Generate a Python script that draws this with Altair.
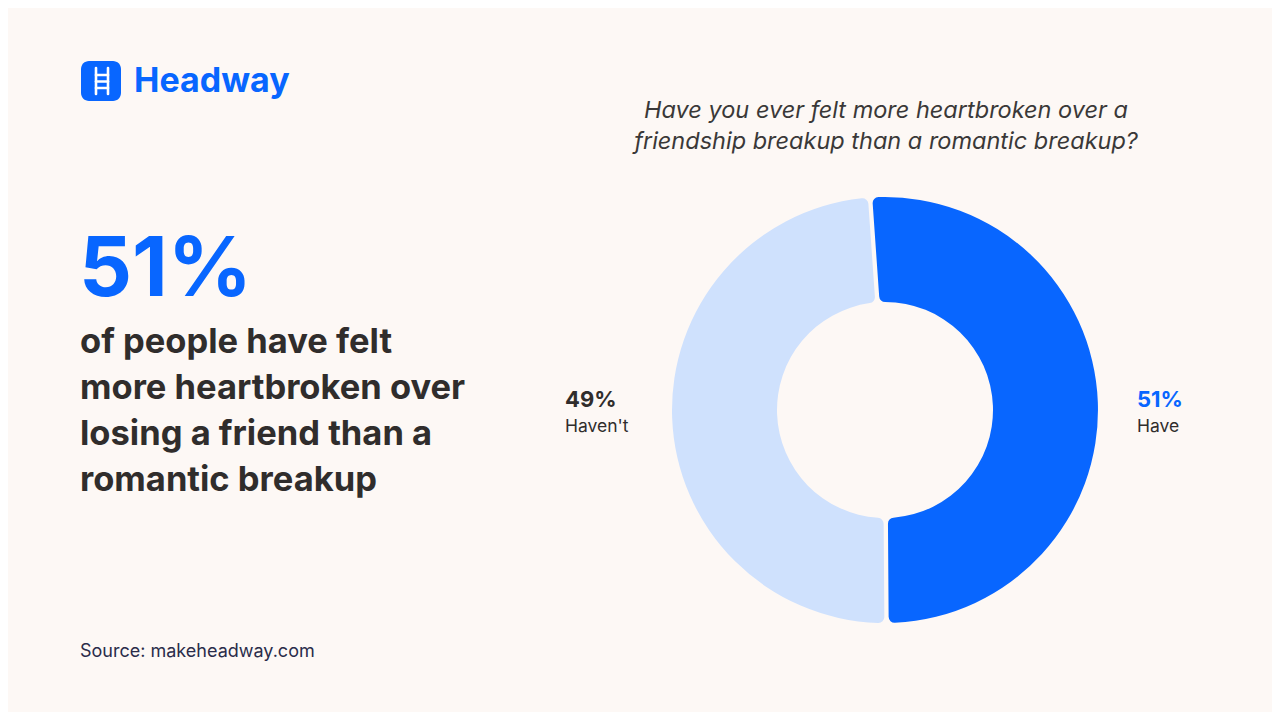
import math
import altair as alt
import pandas as pd

# ---- data ----
categories = ["Have", "Haven't"]
values = [51, 49]
pct_labels = ["51%", "49%"]
slice_colors = ["#0866FF", "#CFE1FD"]

question_lines = [
    "Have you ever felt more heartbroken over a",
    "friendship breakup than a romantic breakup?",
]
headline = "51%"
body_lines = [
    "of people have felt",
    "more heartbroken over",
    "losing a friend than a",
    "romantic breakup",
]
source_text = "Source: makeheadway.com"
brand = "Headway"

BG = "#FDF8F5"
BLUE = "#0866FF"
DARK = "#302D2C"
FONT = "Inter"

df = pd.DataFrame({
    "category": categories,
    "value": values,
    "label": pct_labels,
    "order": list(range(len(categories))),
})
one = pd.DataFrame({"k": [0]})

W, H = 1264, 704
OFF = 8  # page margin


def px(v):
    return v - OFF


# ---- donut ----
start = -0.07
donut = alt.Chart(df).mark_arc(
    radius=213, radius2=108, padAngle=0.018, cornerRadius=6
).encode(
    theta=alt.Theta("value:Q", stack=True,
                    scale=alt.Scale(range=[start, start + 2 * math.pi])),
    order=alt.Order("order:Q"),
    color=alt.Color("category:N", scale=alt.Scale(domain=categories, range=slice_colors), legend=None),
    x=alt.value(px(885)),
    y=alt.value(px(410)),
)

# slice labels
lab_have_pct = alt.Chart(df).transform_filter(alt.datum.category == "Have").mark_text(
    font=FONT, fontSize=22, fontWeight=700, color=BLUE, align="left", baseline="alphabetic"
).encode(text="label:N", x=alt.value(px(1137)), y=alt.value(px(407)))
lab_have_cat = alt.Chart(df).transform_filter(alt.datum.category == "Have").mark_text(
    font=FONT, fontSize=17.5, color=DARK, align="left", baseline="alphabetic"
).encode(text="category:N", x=alt.value(px(1137)), y=alt.value(px(432)))
lab_not_pct = alt.Chart(df).transform_filter(alt.datum.category == "Haven't").mark_text(
    font=FONT, fontSize=22, fontWeight=700, color=DARK, align="left", baseline="alphabetic"
).encode(text="label:N", x=alt.value(px(565)), y=alt.value(px(407)))
lab_not_cat = alt.Chart(df).transform_filter(alt.datum.category == "Haven't").mark_text(
    font=FONT, fontSize=17.5, color=DARK, align="left", baseline="alphabetic"
).encode(text="category:N", x=alt.value(px(565)), y=alt.value(px(432)))

# question title
question = alt.Chart(one).mark_text(
    font=FONT, fontSize=23.5, fontStyle="italic", color="#3A3838",
    align="center", baseline="alphabetic", lineHeight=31,
).encode(text=alt.value(question_lines), x=alt.value(px(886)), y=alt.value(px(118)))

# headline
big = alt.Chart(one).mark_text(
    font=FONT, fontSize=83, fontWeight=700, color=BLUE, align="left", baseline="alphabetic"
).encode(text=alt.value(headline), x=alt.value(px(79)), y=alt.value(px(296)))

body = alt.Chart(one).mark_text(
    font=FONT, fontSize=34.5, fontWeight=700, color=DARK, align="left",
    baseline="alphabetic", lineHeight=46,
).encode(text=alt.value(body_lines), x=alt.value(px(80)), y=alt.value(px(353)))

source = alt.Chart(one).mark_text(
    font=FONT, fontSize=18, color="#2A2C4A", align="left", baseline="alphabetic"
).encode(text=alt.value(source_text), x=alt.value(px(80)), y=alt.value(px(657)))

# logo
logo_box = alt.Chart(one).mark_rect(color=BLUE, cornerRadius=8).encode(
    x=alt.value(px(81)), x2=alt.value(px(121)), y=alt.value(px(61)), y2=alt.value(px(101))
)
ladder_v = [
    alt.Chart(one).mark_rule(color="white", strokeWidth=2.6, strokeCap="round").encode(
        x=alt.value(px(xx)), y=alt.value(px(68)), y2=alt.value(px(94)))
    for xx in (96, 108)
]
ladder_h = [
    alt.Chart(one).mark_rule(color="white", strokeWidth=2.6, strokeCap="round").encode(
        x=alt.value(px(96)), x2=alt.value(px(108)), y=alt.value(px(yy)))
    for yy in (75, 81.5, 88)
]
brand_text = alt.Chart(one).mark_text(
    font=FONT, fontSize=34, fontWeight=700, color=BLUE, align="left", baseline="alphabetic"
).encode(text=alt.value(brand), x=alt.value(px(134)), y=alt.value(px(92)))

chart = alt.layer(
    donut, lab_have_pct, lab_have_cat, lab_not_pct, lab_not_cat,
    question, big, body, source, logo_box, *ladder_v, *ladder_h, brand_text,
).properties(
    width=W, height=H, background=BG, padding=0,
    autosize=alt.AutoSizeParams(type="none"),
).configure_view(stroke=None)

chart.save("out.html", embed_options={"renderer": "svg", "actions": False})
